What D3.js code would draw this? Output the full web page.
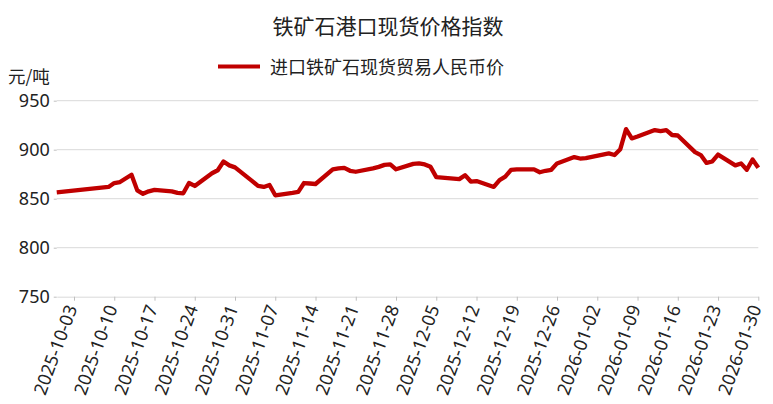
<!DOCTYPE html>
<html>
<head>
<meta charset="utf-8">
<script src="https://cdn.jsdelivr.net/npm/d3@7/dist/d3.min.js"></script>
<style>
  html, body { margin: 0; padding: 0; background: #fff; }
  svg { display: block; font-family: "Noto Sans CJK SC", "Noto Sans", sans-serif; }
</style>
</head>
<body>
<svg id="chart" width="773" height="404"></svg>
<script>
const title = "铁矿石港口现货价格指数";
const seriesName = "进口铁矿石现货贸易人民币价";
const unitLabel = "元/吨";

const dates = [
  "2025-09-30","2025-10-09","2025-10-10","2025-10-11","2025-10-13","2025-10-14","2025-10-15","2025-10-16","2025-10-17",
  "2025-10-20","2025-10-21","2025-10-22","2025-10-23","2025-10-24","2025-10-27","2025-10-28","2025-10-29","2025-10-30","2025-10-31",
  "2025-11-03","2025-11-04","2025-11-05","2025-11-06","2025-11-07","2025-11-10","2025-11-11","2025-11-12","2025-11-13","2025-11-14",
  "2025-11-17","2025-11-18","2025-11-19","2025-11-20","2025-11-21","2025-11-24","2025-11-25","2025-11-26","2025-11-27","2025-11-28",
  "2025-12-01","2025-12-02","2025-12-03","2025-12-04","2025-12-05","2025-12-08","2025-12-09","2025-12-10","2025-12-11","2025-12-12",
  "2025-12-15","2025-12-16","2025-12-17","2025-12-18","2025-12-19","2025-12-22","2025-12-23","2025-12-24","2025-12-25","2025-12-26",
  "2025-12-29","2025-12-30","2025-12-31","2026-01-04","2026-01-05","2026-01-06","2026-01-07","2026-01-08","2026-01-09",
  "2026-01-12","2026-01-13","2026-01-14","2026-01-15","2026-01-16","2026-01-19","2026-01-20","2026-01-21","2026-01-22","2026-01-23",
  "2026-01-26","2026-01-27","2026-01-28","2026-01-29","2026-01-30"
];
const values = [
  856.5,862,866,867,874.5,858.5,855,857.5,859,
  857.5,856,855.5,866,863,876,879,888,884,882,
  868,863,862,864,853.5,856,857,866,865.5,865,
  880,881,881.5,878.5,877.5,881,882.5,884.5,885,880,
  885.5,886,885,882.5,872,870.5,870,874,867.5,868,
  862,869,872.5,879.5,880,880,877,878.5,879.5,886,
  892.5,891,891.5,896.3,894.6,900.5,921,911.5,913.5,
  920,919,920,915,914.5,897.5,894.5,886.5,888,895,
  884,886,879.5,890,881.5
];
const xTickLabels = ["2025-10-03","2025-10-10","2025-10-17","2025-10-24","2025-10-31","2025-11-07","2025-11-14","2025-11-21","2025-11-28",
  "2025-12-05","2025-12-12","2025-12-19","2025-12-26","2026-01-02","2026-01-09","2026-01-16","2026-01-23","2026-01-30"];
const yTicks = [750, 800, 850, 900, 950];

const parse = d3.utcParse("%Y-%m-%d");
const fmt = d3.utcFormat("%Y-%m-%d");
const data = dates.map((d, i) => ({ date: parse(d), value: values[i] }));

const svg = d3.select("#chart");
const plotLeft = 56.75, plotRight = 758.3, plotTop = 100.7, plotBottom = 296.7;

const x = d3.scaleUtc().domain([parse("2025-09-30"), parse("2026-01-30")]).range([plotLeft, plotRight]);
const y = d3.scaleLinear().domain([750, 950]).range([plotBottom, plotTop]);

// gridlines
svg.append("g")
  .selectAll("line").data(yTicks.filter(t => t !== 750)).join("line")
  .attr("x1", plotLeft).attr("x2", plotRight)
  .attr("y1", d => y(d)).attr("y2", d => y(d))
  .attr("stroke", "#d9d9d9").attr("stroke-width", 1);

// y axis
const yAxis = svg.append("g").attr("transform", `translate(${plotLeft},0)`)
  .call(d3.axisLeft(y).tickValues(yTicks).tickSize(3).tickPadding(4));
yAxis.select(".domain").remove();
yAxis.selectAll(".tick line").attr("stroke", "#bfbfbf");
yAxis.selectAll(".tick text").attr("fill", "#222").style("font-size", "18px")
  .style("font-family", "'Noto Sans', sans-serif");

// x axis
const xAxis = svg.append("g").attr("transform", `translate(0,${plotBottom})`)
  .call(d3.axisBottom(x).tickValues(xTickLabels.map(parse)).tickFormat(fmt).tickSize(4).tickSizeOuter(0));
xAxis.select(".domain").attr("stroke", "#d9d9d9");
xAxis.selectAll(".tick line").attr("stroke", "#bfbfbf");
xAxis.selectAll(".tick text")
  .attr("fill", "#222")
  .style("font-size", "18px")
  .style("font-family", "'Noto Sans', sans-serif")
  .attr("text-anchor", "end")
  .attr("dy", "0.35em")
  .attr("y", 0)
  .attr("transform", "translate(-3,9) rotate(-70)");

// line
const line = d3.line().x(d => x(d.date)).y(d => y(d.value));
svg.append("path").datum(data)
  .attr("d", line)
  .attr("fill", "none")
  .attr("stroke", "#c00000")
  .attr("stroke-width", 4.3)
  .attr("stroke-linejoin", "round");

// title
svg.append("text").attr("x", 388).attr("y", 25).attr("text-anchor", "middle")
  .attr("dominant-baseline", "central")
  .style("font-size", "21px").attr("fill", "#222").text(title);

// legend
svg.append("line").attr("x1", 218).attr("x2", 260).attr("y1", 66.5).attr("y2", 66.5)
  .attr("stroke", "#c00000").attr("stroke-width", 4);
svg.append("text").attr("x", 270).attr("y", 66).attr("dominant-baseline", "central")
  .style("font-size", "18px").attr("fill", "#222").text(seriesName);

// unit
svg.append("text").attr("x", 8).attr("y", 75).attr("dominant-baseline", "central")
  .style("font-size", "17.5px").attr("fill", "#222").text(unitLabel);
</script>
</body>
</html>
